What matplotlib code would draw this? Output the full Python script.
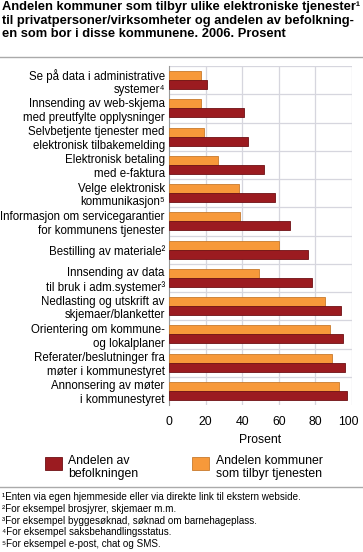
import numpy as np
import matplotlib.pyplot as plt
from matplotlib.patches import Rectangle
from matplotlib.lines import Line2D
import matplotlib.transforms as mtransforms

plt.rcParams["font.family"] = ["Liberation Sans", "DejaVu Sans"]

categories = [
    "Se på data i administrative\nsystemer⁴",
    "Innsending av web-skjema\nmed preutfylte opplysninger",
    "Selvbetjente tjenester med\nelektronisk tilbakemelding",
    "Elektronisk betaling\nmed e-faktura",
    "Velge elektronisk\nkommunikasjon⁵",
    "Informasjon om servicegarantier\nfor kommunens tjenester",
    "Bestilling av materiale²",
    "Innsending av data\ntil bruk i adm.systemer³",
    "Nedlasting og utskrift av\nskjemaer/blanketter",
    "Orientering om kommune-\nog lokalplaner",
    "Referater/beslutninger fra\nmøter i kommunestyret",
    "Annonsering av møter\ni kommunestyret",
]
kommuner = [17.5, 17.5, 19, 27, 38, 39, 60, 49, 85, 88, 89, 93]
befolkning = [21, 41, 43, 52, 58, 66, 76, 78, 94, 95, 96, 97]

series_names = ["Andelen av\nbefolkningen", "Andelen kommuner\nsom tilbyr tjenesten"]
title = ("Andelen kommuner som tilbyr ulike elektroniske tjenester¹\n"
         "til privatpersoner/virksomheter og andelen av befolkning-\n"
         "en som bor i disse kommunene. 2006. Prosent")
footnotes = [
    "¹Enten via egen hjemmeside eller via direkte link til ekstern webside.",
    "²For eksempel brosjyrer, skjemaer m.m.",
    "³For eksempel byggesøknad, søknad om barnehageplass.",
    "⁴For eksempel saksbehandlingsstatus.",
    "⁵For eksempel e-post, chat og SMS.",
]

red = "#9b1b20"
orange = "#f7993a"
grid_col = "#d6d6de"

W, H = 363, 552
fig = plt.figure(figsize=(W / 100, H / 100), dpi=100)
ax = fig.add_axes([169 / W, 1 - 405 / H, (352 - 169) / W, (405 - 66) / H])

y = np.arange(len(categories))
h = 0.32
ax.barh(y - h / 2, kommuner, height=h, color=orange, edgecolor="#c87a2c", linewidth=0.6, zorder=3)
ax.barh(y + h / 2, befolkning, height=h, color=red, edgecolor="#6e1014", linewidth=0.6, zorder=3)

ax.set_xlim(0, 100)
ax.set_ylim(len(categories) - 0.5, -0.5)
ax.set_xticks([0, 20, 40, 60, 80, 100])
ax.set_yticks(y)
ax.set_yticklabels(categories, fontsize=8.3, linespacing=1.2)
ax.tick_params(length=0, pad=3)
ax.tick_params(axis="x", pad=8, labelsize=8.8)
for v in [20, 40, 60, 80, 100]:
    ax.axvline(v, color=grid_col, linewidth=0.9, zorder=1)
for b in np.arange(-0.5, len(categories) - 1, 1.0):
    ax.axhline(b, color=grid_col, linewidth=0.9, zorder=1)
for s in ["top", "right", "bottom"]:
    ax.spines[s].set_visible(False)
ax.spines["left"].set_color("#999999")
ax.spines["left"].set_linewidth(0.8)

lbl = ax.get_xticklabels()[-1]
lbl.set_transform(lbl.get_transform() + mtransforms.ScaledTranslation(-4 / 100, 0, fig.dpi_scale_trans))
ax.set_xlabel("Prosent", fontsize=8.8, labelpad=4)

fig.text(2 / W, 1 - 1 / H, title, fontsize=9.3, fontweight="bold", va="top", ha="left", linespacing=1.17)
fig.add_artist(Line2D([0, 1], [1 - 57 / H] * 2, color="#aaaaaa", linewidth=1))

# legend
for x0, col, ec, name, tx in [(45, red, "#6e1014", series_names[0], 68),
                              (192, orange, "#c87a2c", series_names[1], 216)]:
    fig.add_artist(Rectangle((x0 / W, 1 - 470 / H), 17 / W, 13 / H,
                             facecolor=col, edgecolor=ec, linewidth=0.6, transform=fig.transFigure))
    fig.text(tx / W, 1 - 455 / H, name, fontsize=8.8, va="top", ha="left", linespacing=1.1)

fig.add_artist(Line2D([0, 1], [1 - 487 / H] * 2, color="#aaaaaa", linewidth=1))
for i, fn in enumerate(footnotes):
    fig.text(2 / W, 1 - (497 + 11.8 * i) / H, fn, fontsize=7.1, va="center", ha="left")

fig.savefig("out.png", dpi=100)
